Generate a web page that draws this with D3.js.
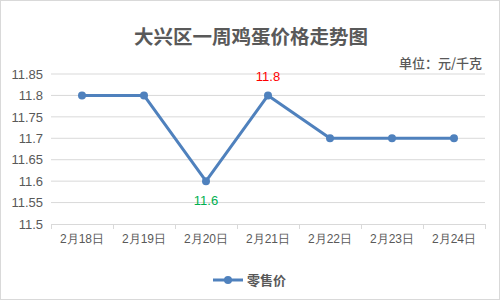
<!DOCTYPE html>
<html>
<head>
<meta charset="utf-8">
<script src="https://cdn.jsdelivr.net/npm/d3@7"></script>
<style>
  html, body { margin: 0; padding: 0; background: #fff; }
  svg { display: block; font-family: "Microsoft YaHei", "Noto Sans CJK SC", sans-serif; }
</style>
</head>
<body>
<div id="chart"></div>
<script>
(function () {
  'use strict';

  // ── Data ──
  var dates = ['2月18日', '2月19日', '2月20日', '2月21日', '2月22日', '2月23日', '2月24日'];
  var prices = [11.8, 11.8, 11.6, 11.8, 11.7, 11.7, 11.7];
  var yTicks = [11.5, 11.55, 11.6, 11.65, 11.7, 11.75, 11.8, 11.85];
  // labelled points: index -> colour
  var labelIdx = [2, 3];
  var labelColors = ['#00B050', '#FF0000'];

  // ── Constants ──
  var WIDTH = 500, HEIGHT = 300;
  var LINE_COLOR = '#4F81BD';
  var TEXT_COLOR = '#595959';
  var GRID_COLOR = '#D9D9D9';
  var PLOT = { left: 51, right: 485, top: 74, bottom: 224 };

  var svg = d3.select('#chart').append('svg')
    .attr('width', WIDTH)
    .attr('height', HEIGHT);

  // frame
  svg.append('rect')
    .attr('x', 0.5).attr('y', 0.5)
    .attr('width', WIDTH - 1).attr('height', HEIGHT - 1)
    .attr('fill', '#fff')
    .attr('stroke', '#D9D9D9');

  // ── Scales ──
  var x = d3.scaleBand().domain(dates).range([PLOT.left, PLOT.right]);
  var y = d3.scaleLinear().domain([11.5, 11.85]).range([PLOT.bottom, PLOT.top]);

  // ── Title ──
  svg.append('text')
    .attr('x', 251).attr('y', 44)
    .attr('text-anchor', 'middle')
    .attr('font-size', 19.5)
    .attr('font-weight', 'bold')
    .attr('fill', TEXT_COLOR)
    .text('大兴区一周鸡蛋价格走势图');

  svg.append('text')
    .attr('x', 482).attr('y', 68)
    .attr('text-anchor', 'end')
    .attr('font-size', 13)
    .attr('font-weight', 500)
    .attr('fill', TEXT_COLOR)
    .text('单位：元/千克');

  // ── Gridlines ──
  svg.append('g')
    .selectAll('line')
    .data(yTicks.slice(1))
    .join('line')
    .attr('x1', PLOT.left).attr('x2', PLOT.right)
    .attr('y1', function (d) { return y(d); })
    .attr('y2', function (d) { return y(d); })
    .attr('stroke', GRID_COLOR)
    .attr('stroke-width', 1);

  // ── Y axis labels ──
  var yAxis = d3.axisLeft(y).tickValues(yTicks).tickSize(0).tickPadding(8)
    .tickFormat(function (d) { return String(+d.toFixed(2)); });
  var gy = svg.append('g')
    .attr('transform', 'translate(' + PLOT.left + ',0)')
    .call(yAxis);
  gy.select('.domain').remove();
  gy.selectAll('text')
    .attr('font-size', 13)
    .attr('fill', TEXT_COLOR)
    .attr('font-family', 'Liberation Sans, Arial, sans-serif');

  // ── X axis ──
  var xAxis = d3.axisBottom(x).tickSize(0).tickPadding(10);
  var gx = svg.append('g')
    .attr('transform', 'translate(0,' + PLOT.bottom + ')')
    .call(xAxis);
  gx.select('.domain')
    .attr('stroke', GRID_COLOR)
    .attr('d', 'M' + PLOT.left + ',0.5H' + PLOT.right);
  gx.selectAll('text')
    .attr('font-size', 12)
    .attr('fill', TEXT_COLOR);

  // tick marks at band boundaries
  var bounds = dates.map(function (d) { return x(d); }).concat([x(dates[dates.length - 1]) + x.bandwidth()]);
  svg.append('g')
    .selectAll('line')
    .data(bounds)
    .join('line')
    .attr('x1', function (d) { return Math.round(d) + 0.5; })
    .attr('x2', function (d) { return Math.round(d) + 0.5; })
    .attr('y1', PLOT.bottom)
    .attr('y2', PLOT.bottom + 5)
    .attr('stroke', GRID_COLOR);

  // ── Line ──
  var cx = function (d, i) { return x(dates[i]) + x.bandwidth() / 2; };
  var line = d3.line()
    .x(cx)
    .y(function (d) { return y(d); });

  svg.append('path')
    .datum(prices)
    .attr('d', line)
    .attr('fill', 'none')
    .attr('stroke', LINE_COLOR)
    .attr('stroke-width', 3)
    .attr('stroke-linejoin', 'round');

  svg.append('g')
    .selectAll('circle')
    .data(prices)
    .join('circle')
    .attr('cx', cx)
    .attr('cy', function (d) { return y(d); })
    .attr('r', 4)
    .attr('fill', LINE_COLOR);

  // ── Data labels ──
  svg.append('g')
    .selectAll('text')
    .data(labelIdx)
    .join('text')
    .attr('x', function (i) { return x(dates[i]) + x.bandwidth() / 2; })
    .attr('y', function (i) {
      return i === 2 ? y(prices[i]) + 24 : y(prices[i]) - 14;
    })
    .attr('text-anchor', 'middle')
    .attr('font-size', 13)
    .attr('font-family', 'Liberation Sans, Arial, sans-serif')
    .attr('fill', function (i, k) { return labelColors[k]; })
    .text(function (i) { return String(prices[i]); });

  // ── Legend ──
  var legend = svg.append('g').attr('transform', 'translate(213,280)');
  legend.append('line')
    .attr('x1', 0).attr('x2', 30)
    .attr('y1', 0).attr('y2', 0)
    .attr('stroke', LINE_COLOR)
    .attr('stroke-width', 3);
  legend.append('circle')
    .attr('cx', 15).attr('cy', 0).attr('r', 4)
    .attr('fill', LINE_COLOR);
  legend.append('text')
    .attr('x', 34).attr('y', 5)
    .attr('font-size', 13)
    .attr('font-weight', 'bold')
    .attr('fill', TEXT_COLOR)
    .text('零售价');
})();
</script>
</body>
</html>
